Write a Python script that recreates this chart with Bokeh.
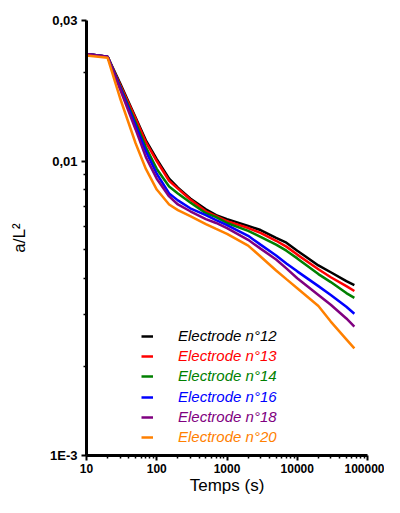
from bokeh.plotting import figure
from bokeh.models import FixedTicker, Legend, LegendItem
from bokeh.embed import file_html
from bokeh.resources import INLINE

# ---- data ----
temps = [10, 20, 30, 50, 70, 100, 150, 200, 300, 500, 700, 1000, 2000, 3000,
         5000, 7000, 10000, 20000, 30000, 50000, 65000]

e12 = [0.0231, 0.0226, 0.0184, 0.01404, 0.01175, 0.01015, 0.00871, 0.00812, 0.00746,
       0.00686, 0.00655, 0.00635, 0.00602, 0.00583, 0.00548, 0.00528, 0.00496,
       0.00442, 0.00419, 0.00391, 0.00379]
e13 = [0.0231, 0.0226, 0.0182, 0.01393, 0.01158, 0.0100, 0.00857, 0.00806, 0.00740,
       0.00675, 0.00650, 0.00625, 0.00592, 0.00570, 0.00536, 0.00512, 0.00481,
       0.00429, 0.00403, 0.00376, 0.00362]
e14 = [0.0231, 0.0226, 0.01796, 0.01351, 0.01114, 0.00940, 0.00819, 0.00776, 0.00723,
       0.00665, 0.00645, 0.00616, 0.00579, 0.00553, 0.00520, 0.00496, 0.00467,
       0.00413, 0.00388, 0.00356, 0.00343]
e16 = [0.0231, 0.0226, 0.01782, 0.0132, 0.0108, 0.00905, 0.00776, 0.00735, 0.00691,
       0.00655, 0.00630, 0.00606, 0.00557, 0.00520, 0.00478, 0.00449, 0.00422,
       0.00376, 0.00351, 0.00320, 0.00303]
e18 = [0.0231, 0.0226, 0.01755, 0.0128, 0.01031, 0.00871, 0.00758, 0.00712, 0.00675,
       0.00635, 0.00616, 0.00592, 0.00540, 0.00504, 0.00463, 0.00432, 0.00400,
       0.00351, 0.00325, 0.00292, 0.00274]
e20 = [0.0228, 0.0224, 0.01637, 0.01149, 0.00940, 0.00800, 0.00712, 0.00681, 0.00650,
       0.00611, 0.00588, 0.00566, 0.00516, 0.00474, 0.00425, 0.00397, 0.00370,
       0.00322, 0.00285, 0.00248, 0.00231]

labels = ["Electrode n°12", "Electrode n°13", "Electrode n°14",
          "Electrode n°16", "Electrode n°18", "Electrode n°20"]
series = [e12, e13, e14, e16, e18, e20]
colors = ["#000000", "#FF0000", "#008000", "#0000FF", "#800080", "#FF8000"]

x_major = [10, 100, 1000, 10000, 100000]
x_labels = ["10", "100", "1000", "10000", "100000"]
y_major = [0.001, 0.01, 0.03]
y_labels = ["1E-3", "0,01", "0,03"]

FONT = "Liberation Sans"

p = figure(width=384, height=497, x_axis_type="log", y_axis_type="log",
           x_range=(10, 100000), y_range=(0.001, 0.03),
           output_backend="svg", toolbar_location=None,
           min_border_left=86, min_border_right=17,
           min_border_top=20, min_border_bottom=40)
p.outline_line_color = None
p.grid.visible = False
p.background_fill_color = "white"

renderers = []
for ys, c in zip(series, colors):
    r = p.line(temps, ys, line_color=c, line_width=2.5)
    renderers.append(r)

# axes
x_minor = [m * d for d in (10, 100, 1000, 10000) for m in range(2, 10)]
y_minor = [m * 0.001 for m in range(2, 10)] + [0.02]
p.xaxis.ticker = FixedTicker(ticks=x_major, minor_ticks=x_minor)
p.yaxis.ticker = FixedTicker(ticks=y_major, minor_ticks=y_minor)
p.xaxis.major_label_overrides = dict(zip(x_major, x_labels))
p.yaxis.major_label_overrides = dict(zip(y_major, y_labels))

for ax in (p.xaxis[0], p.yaxis[0]):
    ax.axis_line_width = 3
    ax.axis_line_color = "black"
    ax.major_tick_line_width = 2
    ax.minor_tick_line_width = 1.5
    ax.major_tick_out = 5
    ax.major_tick_in = 0
    ax.minor_tick_out = 3
    ax.minor_tick_in = 0
    ax.major_label_text_font = FONT
    ax.major_label_text_font_style = "bold"
    ax.major_label_text_color = "black"
    ax.axis_label_text_font = FONT
    ax.axis_label_text_font_style = "normal"
    ax.axis_label_text_color = "black"

p.xaxis.major_label_text_font_size = "12px"
p.yaxis.major_label_text_font_size = "13px"
p.xaxis.major_label_standoff = 3
p.yaxis.major_label_standoff = 4
p.xaxis.axis_label = "Temps (s)"
p.yaxis.axis_label = "a/L²"
p.xaxis.axis_label_text_font_size = "17px"
p.yaxis.axis_label_text_font_size = "17px"
p.xaxis.axis_label_standoff = 0
p.yaxis.axis_label_standoff = 18

# legend: one legend per entry so each label gets its series colour
for i, (lab, r, c) in enumerate(zip(labels, renderers, colors)):
    lg = Legend(items=[LegendItem(label=lab, renderers=[r])],
                location=(55, 111 - round(i * 20.2)),
                glyph_width=12, glyph_height=14, label_standoff=25,
                label_height=14, padding=0, margin=0, spacing=0,
                border_line_color=None, background_fill_alpha=0,
                label_text_font=FONT, label_text_font_style="italic",
                label_text_font_size="15px", label_text_color=c)
    p.add_layout(lg)

open("out.html", "w").write(file_html(p, INLINE))
